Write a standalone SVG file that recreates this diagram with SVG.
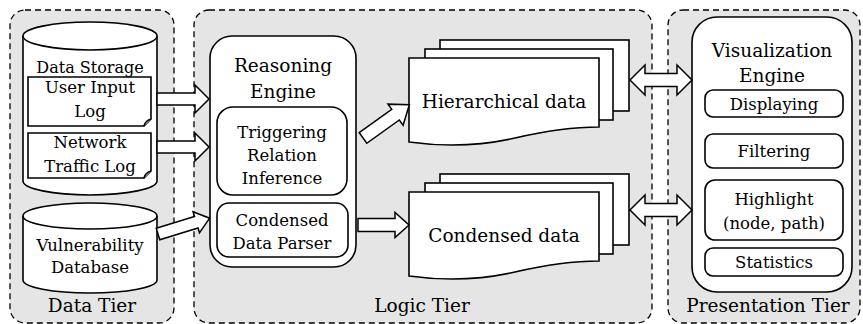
<svg xmlns="http://www.w3.org/2000/svg" width="863" height="324" viewBox="0 0 863 324">
  <style>
    .tier { fill: #e5e5e5; stroke: #000; stroke-width: 1.3; stroke-dasharray: 6 4; }
    .box { fill: #fff; stroke: #000; stroke-width: 1.6; }
    .arrow { fill: #fff; stroke: #000; stroke-width: 1.5; stroke-linejoin: miter; }
    text { font-family: "DejaVu Serif", "Liberation Serif", serif; fill: #000; text-anchor: middle; }
    .t18 { font-size: 18.5px; }
    .t17 { font-size: 16.5px; }
    .t16 { font-size: 16px; }
  </style>
  <defs>
    <!-- single block arrow, pointing along +x, length 52 -->
    <path id="blk52" d="M0,-6 H38 V-14 L52,0 L38,14 V6 H0 Z"/>
    <!-- double block arrow, length 62 -->
    <path id="dbl62" d="M0,0 L15,-15 V-6.5 H47 V-15 L62,0 L47,15 V6.5 H15 V15 Z"/>
  </defs>

  <!-- tiers -->
  <g id="data-tier">
    <rect class="tier" x="10" y="10" width="164" height="313" rx="15"/>
    <text class="t18" x="92" y="312">Data Tier</text>
  </g>
  <g id="logic-tier">
    <rect class="tier" x="194" y="10" width="458" height="313" rx="15"/>
    <text class="t18" x="422" y="312">Logic Tier</text>
  </g>
  <g id="presentation-tier">
    <rect class="tier" x="668" y="10" width="192" height="313" rx="15"/>
    <text class="t18" x="768" y="312">Presentation Tier</text>
  </g>

  <!-- data tier nodes -->
  <g id="data-storage">
    <path class="box" d="M23,36 V181 A67,14 0 0 0 157,181 V36"/>
    <ellipse class="box" cx="90" cy="36" rx="67" ry="14"/>
    <text class="t16" x="90" y="73">Data Storage</text>
  </g>
  <g id="user-input-log">
    <path class="box" d="M28,77 H151 V119 L144,126 H28 Z"/>
    <path class="box" d="M144,126 Q145,121 151,119" fill="none"/>
    <text class="t17" x="90" y="93">User Input</text>
    <text class="t17" x="90" y="117">Log</text>
  </g>
  <g id="network-traffic-log">
    <path class="box" d="M28,133 H151 V171 L144,178 H28 Z"/>
    <path class="box" d="M144,178 Q145,173 151,171" fill="none"/>
    <text class="t17" x="90" y="148">Network</text>
    <text class="t17" x="90" y="172">Traffic Log</text>
  </g>
  <g id="vulnerability-database">
    <path class="box" d="M23,216 V280 A67,13 0 0 0 157,280 V216"/>
    <ellipse class="box" cx="90" cy="216" rx="67" ry="13"/>
    <text class="t17" x="90" y="251">Vulnerability</text>
    <text class="t17" x="90" y="273">Database</text>
  </g>

  <!-- logic tier nodes -->
  <g id="reasoning-engine">
    <rect class="box" x="210" y="36" width="146" height="231" rx="22"/>
    <text class="t18" x="283" y="72">Reasoning</text>
    <text class="t18" x="283" y="98">Engine</text>
  </g>
  <g id="triggering-relation-inference">
    <rect class="box" x="217" y="107" width="130" height="88" rx="16"/>
    <text class="t17" x="282" y="138">Triggering</text>
    <text class="t17" x="282" y="161">Relation</text>
    <text class="t17" x="282" y="184">Inference</text>
  </g>
  <g id="condensed-data-parser">
    <rect class="box" x="217" y="203" width="131" height="54" rx="12"/>
    <text class="t17" x="282" y="226">Condensed</text>
    <text class="t17" x="282" y="249">Data Parser</text>
  </g>
  <g id="hierarchical-data">
    <rect class="box" x="440" y="40" width="189" height="71"/>
    <rect class="box" x="425" y="49" width="188" height="71"/>
    <path class="box" d="M409,58 H599 V127 C575,127 545,131 515,138 C480,146 445,147 409,142 Z"/>
    <text class="t18" x="504" y="108">Hierarchical data</text>
  </g>
  <g id="condensed-data">
    <rect class="box" x="440" y="174" width="189" height="71"/>
    <rect class="box" x="425" y="183" width="188" height="71"/>
    <path class="box" d="M409,192 H599 V261 C575,261 545,265 515,272 C480,280 445,281 409,276 Z"/>
    <text class="t18" x="504" y="242">Condensed data</text>
  </g>

  <!-- presentation tier nodes -->
  <g id="visualization-engine">
    <rect class="box" x="692" y="17" width="160" height="275" rx="25"/>
    <text class="t18" x="772" y="57">Visualization</text>
    <text class="t18" x="772" y="82">Engine</text>
  </g>
  <g id="displaying">
    <rect class="box" x="705" y="90" width="138" height="27" rx="8"/>
    <text class="t17" x="774" y="110">Displaying</text>
  </g>
  <g id="filtering">
    <rect class="box" x="705" y="134" width="138" height="34" rx="8"/>
    <text class="t17" x="774" y="157">Filtering</text>
  </g>
  <g id="highlight">
    <rect class="box" x="705" y="180" width="138" height="60" rx="10"/>
    <text class="t17" x="774" y="205">Highlight</text>
    <text class="t17" x="774" y="229">(node, path)</text>
  </g>
  <g id="statistics">
    <rect class="box" x="705" y="248" width="138" height="28" rx="8"/>
    <text class="t17" x="774" y="268">Statistics</text>
  </g>

  <!-- connectors -->
  <g id="connectors">
    <use href="#blk52" class="arrow" transform="translate(157,99)"/>
    <use href="#blk52" class="arrow" transform="translate(157,147)"/>
    <path class="arrow" d="M0,-6 H40 V-11 L54,0 L40,11 V6 H0 Z" transform="translate(158,234) rotate(-17)"/>
    <path class="arrow" d="M0,-6.5 H40 V-13 L57,0 L40,13 V6.5 H0 Z" transform="translate(363,138) rotate(-35.6)"/>
    <path class="arrow" d="M0,-6.5 H37 V-12.5 L51,0 L37,12.5 V6.5 H0 Z" transform="translate(358,225)"/>
    <use href="#dbl62" class="arrow" transform="translate(630,80)"/>
    <use href="#dbl62" class="arrow" transform="translate(630,210)"/>
  </g>
</svg>
